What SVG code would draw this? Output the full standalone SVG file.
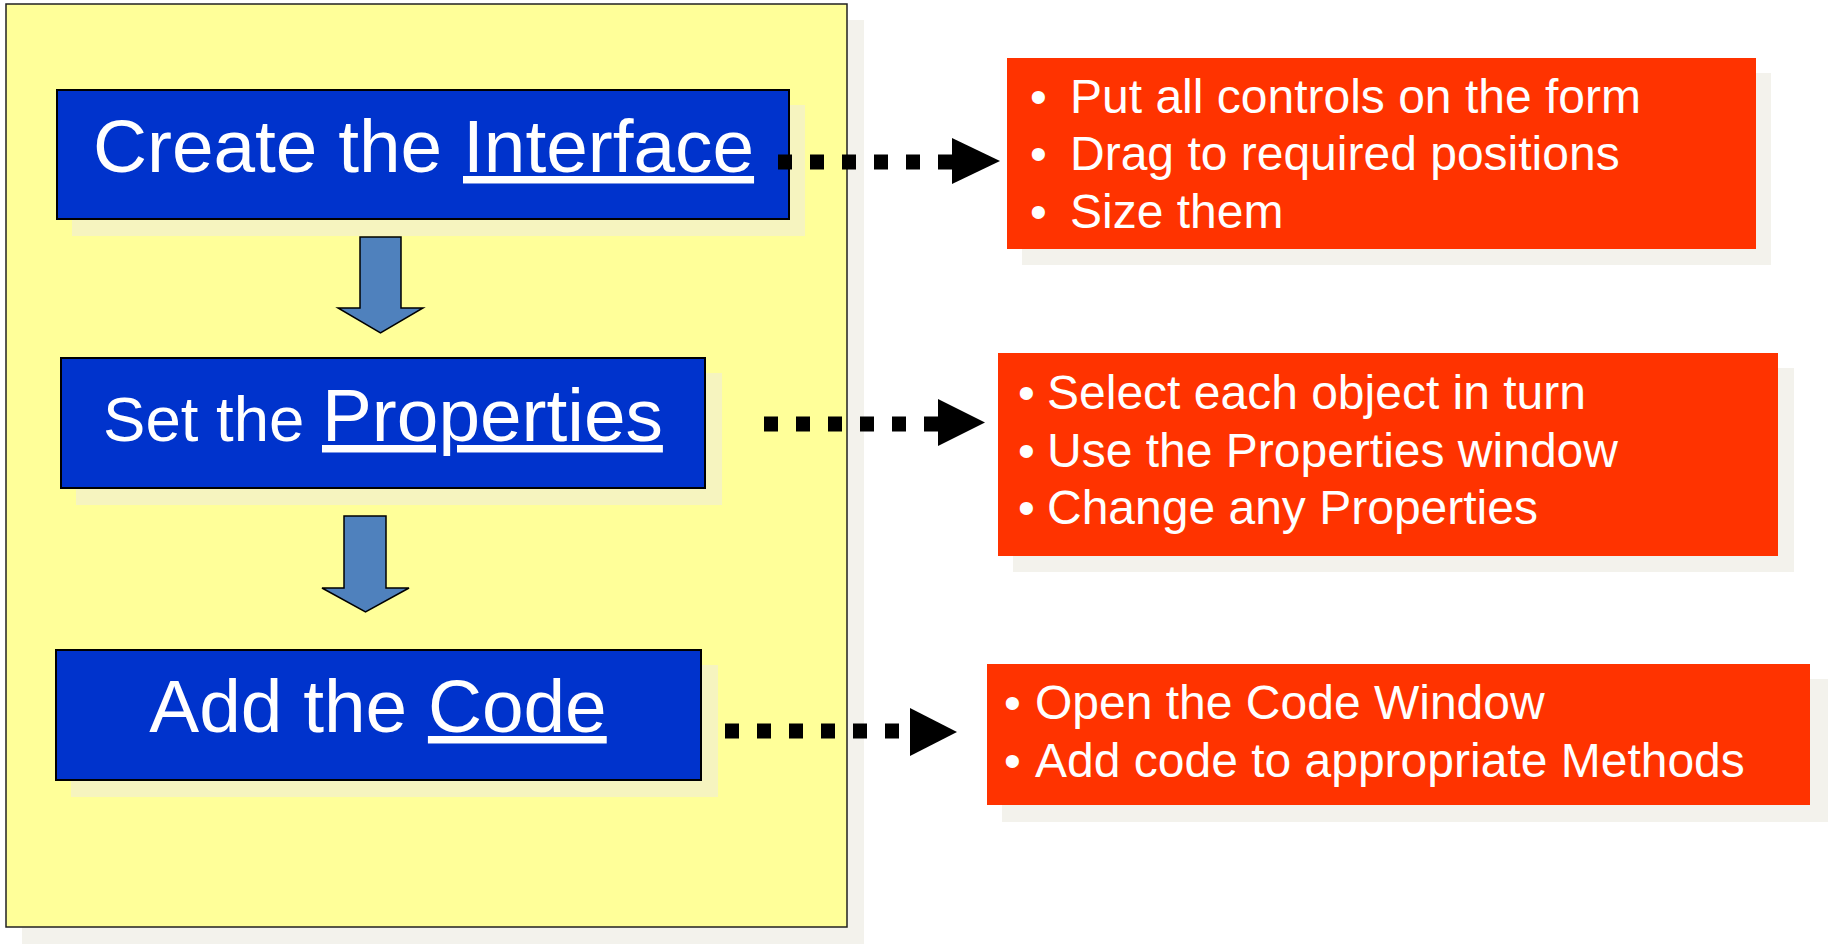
<svg xmlns="http://www.w3.org/2000/svg" width="1831" height="944" viewBox="0 0 1831 944">
<defs>
<style>
.shadow-out{fill:#f3f2ec}
.shadow-in{fill:#f6f4bf}
.panel{fill:#ffff99;stroke:#222;stroke-width:1.5}
.step{fill:#0033cc;stroke:#000;stroke-width:2}
.flow{fill:#4f81bd;stroke:#000;stroke-width:1.5;stroke-linejoin:miter}
.note{fill:#ff3300}
.big{font-family:"Liberation Sans",Arial,sans-serif;fill:#fff;text-anchor:middle}
.lst{font-family:"Liberation Sans",Arial,sans-serif;fill:#fff;font-size:48px}
.dots{stroke:#000;stroke-width:15;stroke-dasharray:14 18;fill:none}
.head{fill:#000}
</style>
</defs>
<rect x="0" y="0" width="1831" height="944" fill="#fff"/>

<g id="panel">
<rect class="shadow-out" x="22" y="20" width="842" height="924"/>
<rect class="panel" x="6" y="4" width="841" height="923"/>
</g>

<g id="step-interface">
<rect class="shadow-in" x="72" y="105" width="733" height="131"/>
<rect class="step" x="57" y="90" width="732" height="129"/>
<text class="big" x="423.5" y="172" font-size="74.8">Create the <tspan text-decoration="underline">Interface</tspan></text>
</g>

<g id="step-properties">
<rect class="shadow-in" x="76" y="373" width="646" height="132"/>
<rect class="step" x="61" y="358" width="644" height="130"/>
<text class="big" x="383" y="441"><tspan font-size="63.5">Set the </tspan><tspan font-size="74.8" text-decoration="underline">Properties</tspan></text>
</g>

<g id="step-code">
<rect class="shadow-in" x="71" y="665" width="647" height="132"/>
<rect class="step" x="56" y="650" width="645" height="130"/>
<text class="big" x="378" y="732" font-size="74.8">Add the <tspan text-decoration="underline">Code</tspan></text>
</g>

<g id="note-interface">
<rect class="shadow-out" x="1022" y="73" width="749" height="192"/>
<rect class="note" x="1007" y="58" width="749" height="191"/>
<text class="lst"><tspan x="1030" y="113">•</tspan><tspan x="1070" y="113">Put all controls on the form</tspan><tspan x="1030" y="170">•</tspan><tspan x="1070" y="170">Drag to required positions</tspan><tspan x="1030" y="228">•</tspan><tspan x="1070" y="228">Size them</tspan></text>
</g>

<g id="note-properties">
<rect class="shadow-out" x="1013" y="368" width="781" height="204"/>
<rect class="note" x="998" y="353" width="780" height="203"/>
<text class="lst"><tspan x="1018" y="409">•</tspan><tspan x="1047" y="409">Select each object in turn</tspan><tspan x="1018" y="467">•</tspan><tspan x="1047" y="467">Use the Properties window</tspan><tspan x="1018" y="524">•</tspan><tspan x="1047" y="524">Change any Properties</tspan></text>
</g>

<g id="note-code">
<rect class="shadow-out" x="1002" y="679" width="826" height="143"/>
<rect class="note" x="987" y="664" width="823" height="141"/>
<text class="lst"><tspan x="1004" y="719">•</tspan><tspan x="1035" y="719">Open the Code Window</tspan><tspan x="1004" y="777">•</tspan><tspan x="1035" y="777">Add code to appropriate Methods</tspan></text>
</g>

<g id="connectors">
<polygon class="flow" points="360,237 401,237 401,308 423,308 380.5,333 338,308 360,308"/>
<polygon class="flow" points="344,516 386,516 386,588 409,588 365.5,612 322,588 344,588"/>
<line class="dots" x1="778" y1="162" x2="952" y2="162"/>
<polygon class="head" points="952,138 1000,161 952,184"/>
<line class="dots" x1="764" y1="424" x2="938" y2="424"/>
<polygon class="head" points="938,399 985,422.5 938,446"/>
<line class="dots" x1="725" y1="731" x2="910" y2="731"/>
<polygon class="head" points="910,708 957,732 910,756"/>
</g>
</svg>
